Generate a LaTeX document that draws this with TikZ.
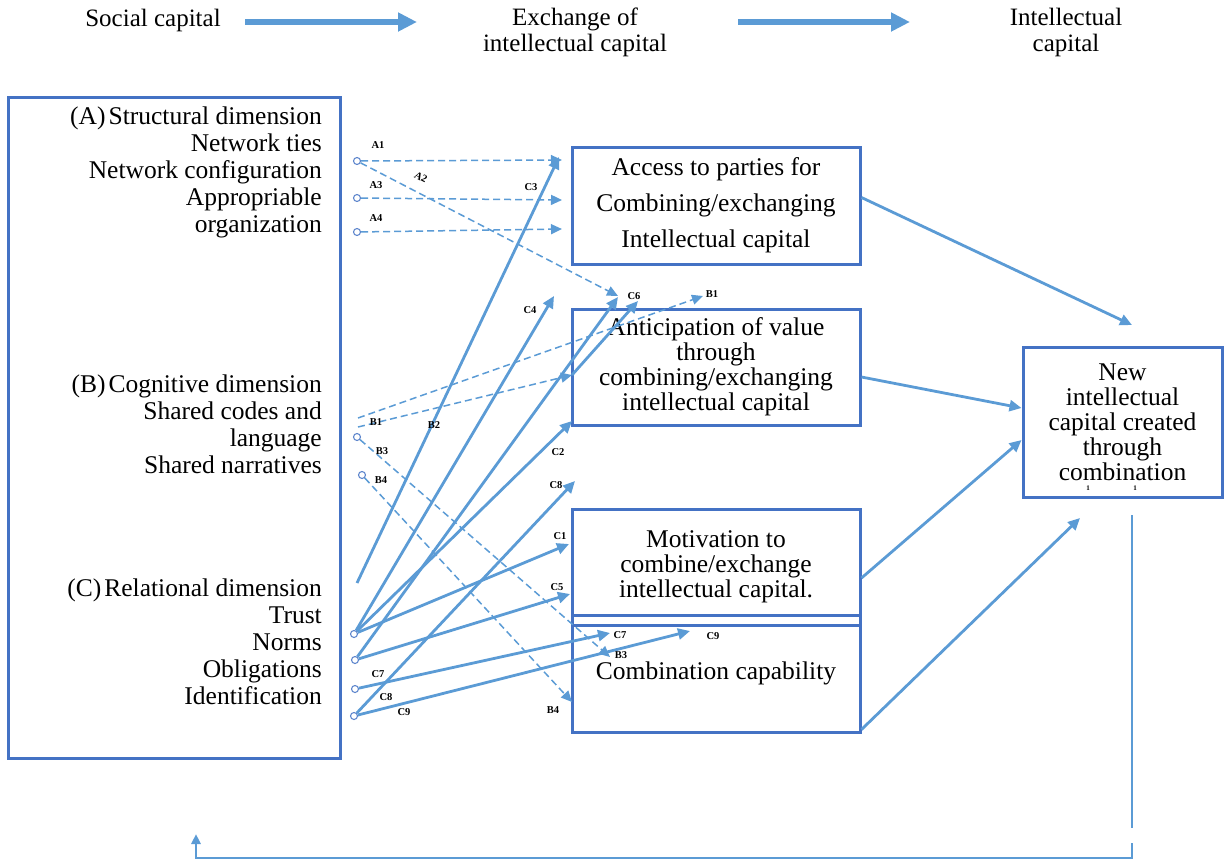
\documentclass[tikz,border=0pt]{standalone}
\usepackage{fontspec}
\setmainfont{Liberation Serif}
\usetikzlibrary{arrows.meta}
\definecolor{boxblue}{RGB}{68,114,196}
\definecolor{arrblue}{RGB}{91,155,213}
\tikzset{
  toptxt/.style={font=\fontsize{25}{26}\selectfont, align=center, inner sep=0pt},
  dimtxt/.style={font=\fontsize{25.5}{27}\selectfont, align=right, inner sep=0pt, anchor=north east},
  cbox/.style={draw=boxblue, line width=3pt, minimum width=288pt, minimum height=117pt,
    align=center, inner sep=0pt, font=\fontsize{25.5}{25}\selectfont},
  lbl/.style={font=\bfseries\fontsize{10.5}{11}\selectfont, inner sep=0pt},
  port/.style={circle, draw=boxblue!85, line width=1.1pt, minimum size=7pt, inner sep=0pt},
  solarr/.style={arrblue, line width=2.8pt, -{Triangle[length=12pt,width=11pt]}},
  dasharr/.style={arrblue, line width=1.5pt, dash pattern=on 7pt off 4pt, -{Triangle[length=11pt,width=10pt]}},
  toparr/.style={arrblue, line width=5.5pt, -{Triangle[length=19pt,width=18pt]}},
}
\begin{document}
\begin{tikzpicture}[x=1pt,y=-1pt]
\useasboundingbox (0,0) rectangle (1224,863);

% top row
\node[toptxt] (soc) at (153,20) {Social capital};
\node[toptxt] (exch) at (575,32) {Exchange of\\intellectual capital};
\node[toptxt] (ic) at (1066,32) {Intellectual\\capital};
\coordinate (s1) at (245,22); \coordinate (e1) at (417,22);
\coordinate (s2) at (738,22); \coordinate (e2) at (910,22);
\draw[toparr] (s1) -- (e1);
\draw[toparr] (s2) -- (e2);

% social capital box
\node[draw=boxblue, line width=3pt, minimum width=332pt, minimum height=661pt] (sk) at (174,427.5) {};
\node[dimtxt] (dimA) at (322,107) {(A)\hspace{3pt}Structural dimension\\Network ties\\Network configuration\\Appropriable\\organization};
\node[dimtxt] (dimB) at (322,375) {(B)\hspace{3pt}Cognitive dimension\\Shared codes and\\language\\Shared narratives};
\node[dimtxt] (dimC) at (322,579) {(C)\hspace{3pt}Relational dimension\\Trust\\Norms\\Obligations\\Identification};

% exchange boxes
\node[cbox, font=\fontsize{25.5}{36}\selectfont] (acc) at (716,205.5) {Access to parties for\\Combining/exchanging\\Intellectual capital};
\node[cbox, minimum height=116pt] (ant) at (716,367) {Anticipation of value\\through\\combining/exchanging\\intellectual capital};
\node[cbox, minimum height=116pt] (mot) at (716,567) {Motivation to\\combine/exchange\\intellectual capital.};
\node[cbox] (cap) at (716,673.5) {Combination capability};
\node[cbox, minimum width=199pt, minimum height=150pt] (new) at (1122.5,422) {New\\intellectual\\capital created\\through\\combination};
\node[lbl, font=\bfseries\fontsize{7}{8}\selectfont] (m1) at (1088,488) {1};
\node[lbl, font=\bfseries\fontsize{7}{8}\selectfont] (m2) at (1135,488) {1};

% start points
\node[port] (pA1) at (357,161) {};
\node[port] (pA3) at (357,198) {};
\node[port] (pA4) at (357,232) {};
\node[port] (pB3) at (357,437) {};
\node[port] (pB4) at (362,475) {};
\node[port] (pT) at (354,634) {};
\node[port] (pN) at (355,660) {};
\node[port] (pO) at (355,689) {};
\node[port] (pI) at (354,716) {};
\coordinate (pB1a) at (358,418);
\coordinate (pB1b) at (358,427);
\coordinate (pB2) at (357,583);

% arrow tips
\coordinate (tA1) at (562,160);
\coordinate (tA2) at (618,296);
\coordinate (tA3) at (562,200);
\coordinate (tA4) at (562,229);
\coordinate (tB1a) at (703,296);
\coordinate (tB1b) at (572,375);
\coordinate (tB3) at (610,657);
\coordinate (tB4) at (572,702);
\coordinate (tC3) at (559,157);
\coordinate (tC4) at (554,296);
\coordinate (tC6) at (618,297);
\coordinate (tC6b) at (638,301);
\coordinate (tC2) at (572,421);
\coordinate (tC8) at (575,481);
\coordinate (tC1) at (569,544);
\coordinate (tC5) at (570,594);
\coordinate (tC7) at (610,633);
\coordinate (tC9) at (690,631);

% dashed links
\draw[dasharr] (pA1) -- (tA1);
\draw[dasharr] (pA1) -- (tA2);
\draw[dasharr] (pA3) -- (tA3);
\draw[dasharr] (pA4) -- (tA4);
\draw[dasharr] (pB1a) -- (tB1a);
\draw[dasharr] (pB1b) -- (tB1b);
\draw[dasharr] (pB3) -- (tB3);
\draw[dasharr] (pB4) -- (tB4);

% solid links
\draw[solarr] (pB2) -- (tC3);
\draw[solarr] (pT) -- (tC4);
\draw[solarr] (pT) -- (tC2);
\draw[solarr] (pT) -- (tC1);
\draw[solarr] (pN) -- (tC6);
\draw[solarr] (pN) -- (tC5);
\draw[solarr] (tB1b) -- (tC6b);
\draw[solarr] (pO) -- (tC7);
\draw[solarr] (pI) -- (tC8);
\draw[solarr] (pI) -- (tC9);

% labels
\node[lbl] at (378,145) {A1};
\node[lbl, rotate=-28] at (421,177) {A2};
\node[lbl] at (376,185) {A3};
\node[lbl] at (376,218) {A4};
\node[lbl] at (531,187) {C3};
\node[lbl] at (530,310) {C4};
\node[lbl] at (634,296) {C6};
\node[lbl] at (712,294) {B1};
\node[lbl] at (376,422) {B1};
\node[lbl] at (434,425) {B2};
\node[lbl] at (382,451) {B3};
\node[lbl] at (381,480) {B4};
\node[lbl] at (558,452) {C2};
\node[lbl] at (556,485) {C8};
\node[lbl] at (560,536) {C1};
\node[lbl] at (557,587) {C5};
\node[lbl] at (620,635) {C7};
\node[lbl] at (713,636) {C9};
\node[lbl] at (621,655) {B3};
\node[lbl] at (378,674) {C7};
\node[lbl] at (386,697) {C8};
\node[lbl] at (404,712) {C9};
\node[lbl] at (553,710) {B4};

% links to new capital
\coordinate (t1) at (1132,325);
\coordinate (t4) at (1080,518);
\draw[solarr] ([yshift=8pt]acc.east) -- (t1);
\draw[solarr] ([yshift=-10pt]ant.east) -- ([yshift=14pt]new.west);
\draw[solarr] ([yshift=-11pt]mot.east) -- ([yshift=-18pt]new.west);
\draw[solarr] ([yshift=-56pt]cap.east) -- (t4);

% feedback loop
\coordinate (fb0) at (1132,515);
\coordinate (fb1) at (1132,828);
\coordinate (fb2) at (1132,843);
\coordinate (fb3) at (196,858);
\coordinate (fb4) at (196,834);
\draw[arrblue, line width=2.8pt] (fb0) -- (fb1);
\draw[arrblue, line width=2.8pt, -{Triangle[length=10pt,width=9pt]}] (fb2) |- (fb3) -- (fb4);

\end{tikzpicture}
\end{document}
